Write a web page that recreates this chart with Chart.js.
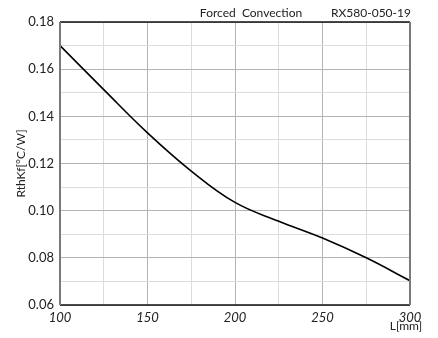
<!DOCTYPE html>
<html><head><meta charset="utf-8">
<script src="https://cdn.jsdelivr.net/npm/chart.js@4/dist/chart.umd.min.js"></script>
<style>html,body{margin:0;padding:0;background:#fff}canvas{display:block}</style>
</head><body>
<canvas id="c" width="438" height="338"></canvas>
<script>
const lengths = [100, 125, 150, 175, 200, 225, 250, 275, 300];
const rth = [0.170, 0.1513, 0.1330, 0.1168, 0.1035, 0.0955, 0.0884, 0.0800, 0.0703];
const titleText = 'Forced  Convection';
const modelText = 'RX580-050-19';
const yTitle = 'RthKf[°C/W]';
const xUnit = 'L[mm]';
const FONT = 'Lato, "Open Sans", sans-serif';

const overlay = {
  id: 'overlay',
  afterDraw(chart) {
    const {ctx, chartArea: a} = chart;
    ctx.save();
    ctx.lineWidth = 1.5;
    ctx.strokeStyle = '#111';
    ctx.beginPath(); ctx.moveTo(a.left, a.top); ctx.lineTo(a.right, a.top); ctx.stroke();
    ctx.beginPath(); ctx.moveTo(a.left, a.bottom); ctx.lineTo(a.right, a.bottom); ctx.stroke();
    ctx.lineWidth = 2;
    ctx.strokeStyle = '#7a7a7a';
    ctx.beginPath(); ctx.moveTo(a.left, a.top); ctx.lineTo(a.left, a.bottom); ctx.stroke();
    ctx.beginPath(); ctx.moveTo(a.right, a.top); ctx.lineTo(a.right, a.bottom); ctx.stroke();
    ctx.fillStyle = '#222';
    ctx.font = '12px ' + FONT;
    ctx.textBaseline = 'alphabetic';
    ctx.textAlign = 'center';
    ctx.fillText(titleText, 251, 17);
    ctx.fillText(modelText, 371, 17);
    ctx.fillText(xUnit, a.right - 4, 330);
    ctx.restore();
  }
};

new Chart(document.getElementById('c'), {
  type: 'line',
  data: {
    datasets: [{
      data: lengths.map((x, i) => ({x: x, y: rth[i]})),
      borderColor: '#000',
      borderWidth: 1.6,
      pointRadius: 0,
      fill: false,
      tension: 0.4
    }]
  },
  options: {
    responsive: false,
    devicePixelRatio: 1,
    animation: false,
    layout: {padding: {left: 0, right: 28, top: 22, bottom: 0}},
    plugins: {legend: {display: false}, tooltip: {enabled: false}},
    scales: {
      x: {
        type: 'linear', min: 100, max: 300,
        border: {display: false},
        afterFit(s) { s.height = 33; },
        grid: {
          drawTicks: false,
          color: c => (c.tick && c.tick.value % 50 === 0) ? '#b4b4b4' : '#dcdcdc',
          lineWidth: 1
        },
        ticks: {
          stepSize: 25, padding: 5, color: '#222',
          font: {family: FONT, size: 13, style: 'italic'},
          maxRotation: 0, autoSkip: false,
          callback: v => (v % 50 === 0 ? String(v) : '')
        }
      },
      y: {
        type: 'linear', min: 0.06, max: 0.18,
        border: {display: false},
        afterFit(s) { s.width = 60; },
        grid: {
          drawTicks: false,
          color: c => (c.tick && Math.round(c.tick.value * 100) % 2 === 0) ? '#b4b4b4' : '#dcdcdc',
          lineWidth: 1
        },
        title: {display: true, text: yTitle, color: '#222', font: {family: FONT, size: 12}, padding: {top: 14, bottom: 0}},
        ticks: {
          stepSize: 0.01, padding: 6, color: '#222',
          font: {family: FONT, size: 13}, autoSkip: false,
          callback: v => (Math.round(v * 100) % 2 === 0 ? v.toFixed(2) : '')
        }
      }
    }
  },
  plugins: [overlay]
});
</script>
</body></html>
